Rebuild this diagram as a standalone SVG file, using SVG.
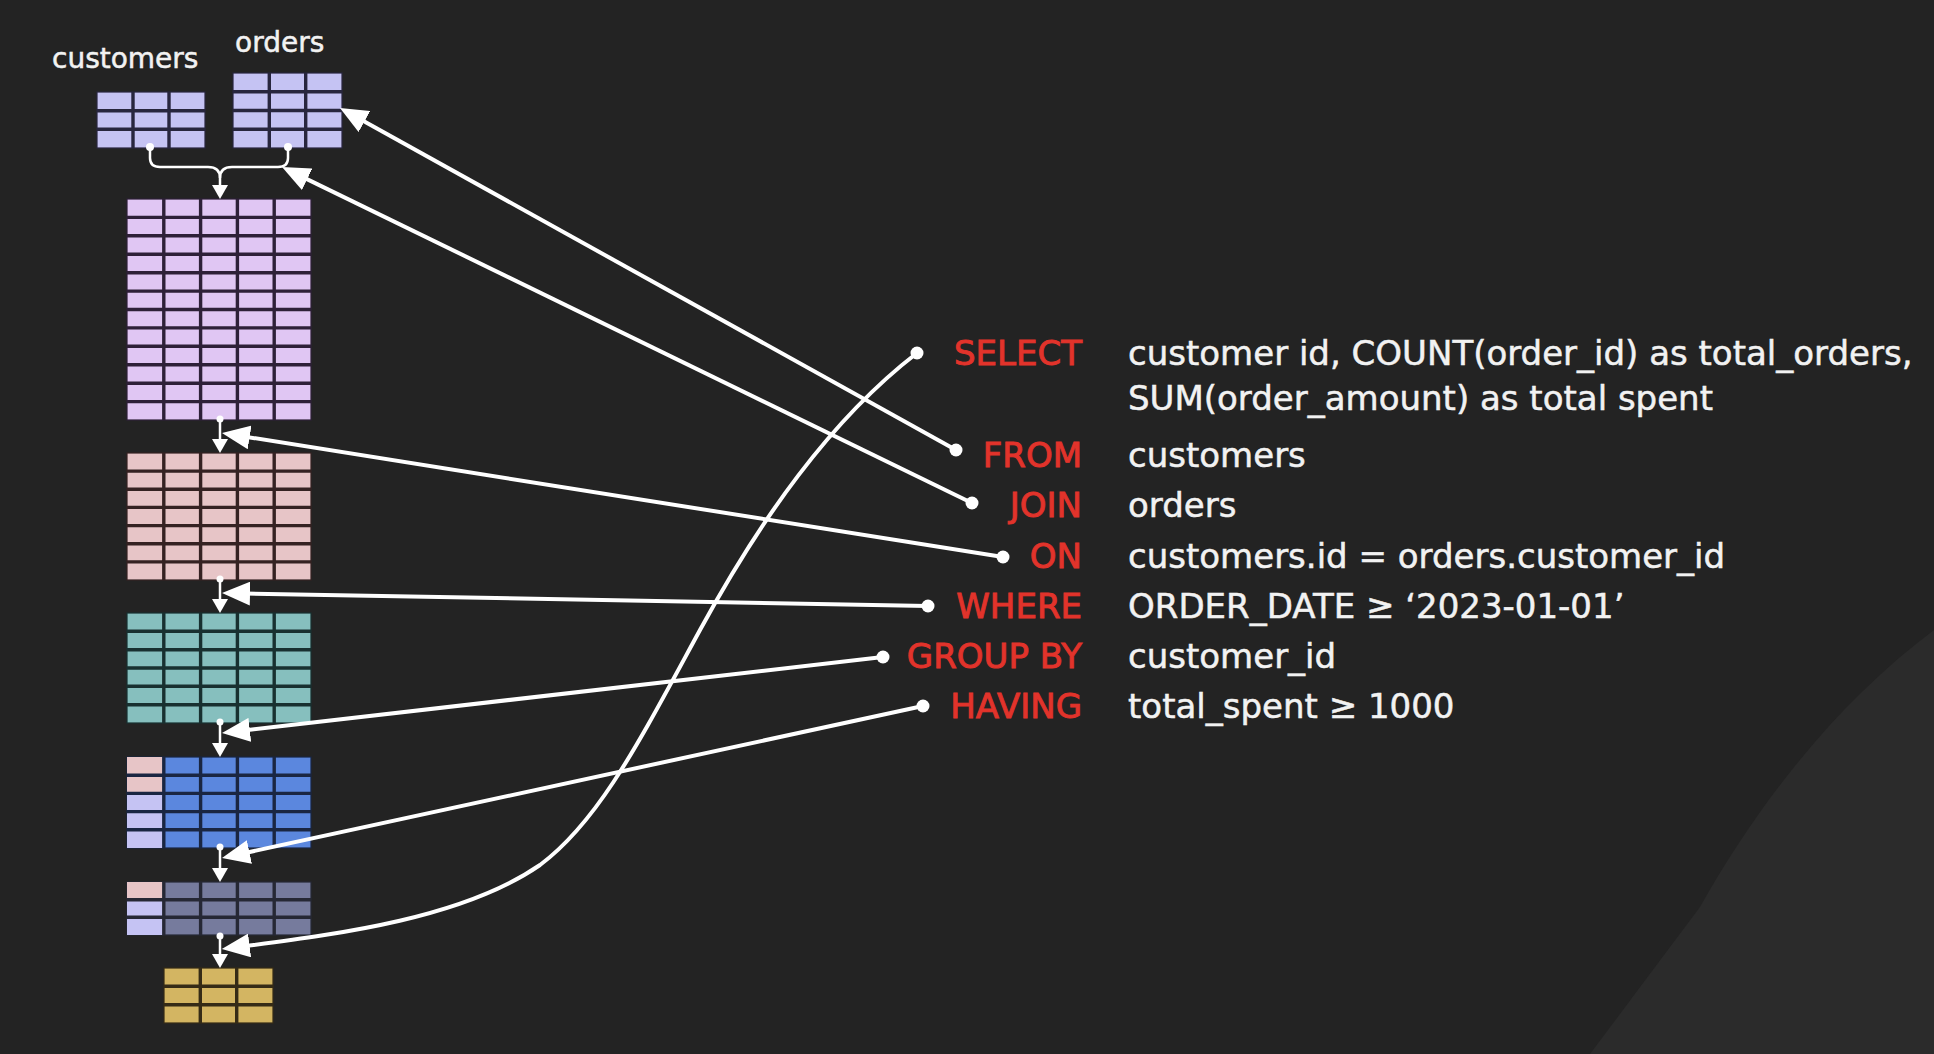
<svg xmlns="http://www.w3.org/2000/svg" width="1934" height="1054" viewBox="0 0 1934 1054">
<style>
.lbl{font-family:"DejaVu Sans","Liberation Sans",sans-serif;fill:#f2f2f2;stroke:#f2f2f2;stroke-width:0.5}
.kw{font-family:"DejaVu Sans","Liberation Sans",sans-serif;fill:#e2332b;stroke:#e2332b;stroke-width:0.9;font-size:34px;text-anchor:end}
.sql{font-family:"DejaVu Sans","Liberation Sans",sans-serif;fill:#f2f2f2;stroke:#f2f2f2;stroke-width:0.5;font-size:34px}
.grid{fill:none;stroke-width:3.4}
.edge{stroke-width:1.2}
.conn{fill:none;stroke:#ffffff;stroke-width:4}
.small{fill:none;stroke:#ffffff;stroke-width:2.5}
.dot{fill:#ffffff}
.lav{fill:#c5c3f3}
.pur{fill:#e0c6f3}
.pnk{fill:#e7c5c7}
.tea{fill:#86bfbe}
.blu{fill:#5b87de}
.gry{fill:#767b9d}
.gld{fill:#d3b562}
</style>
<defs>
<marker id="big" markerUnits="userSpaceOnUse" viewBox="0 0 28 24" refX="14" refY="12" markerWidth="28" markerHeight="24" orient="auto">
<path d="M0,0 L28,12 L0,24 Z" fill="#ffffff"/>
</marker>
<marker id="sm" markerUnits="userSpaceOnUse" viewBox="0 0 14 16" refX="7" refY="8" markerWidth="14" markerHeight="16" orient="auto">
<path d="M0,0 L14,8 L0,16 Z" fill="#ffffff"/>
</marker>
</defs>
<rect x="0" y="0" width="1934" height="1054" fill="#232323"/>
<path d="M1934,630 C1840,700 1760,800 1700,907 L1590,1054 L1934,1054 Z" fill="#2b2b2b"/>

<g id="label-customers"><text class="lbl" x="52" y="68" font-size="28">customers</text></g>
<g id="label-orders"><text class="lbl" x="235" y="52" font-size="28">orders</text></g>

<g id="table-customers">
<rect class="lav edge" x="97" y="92" width="108" height="56" stroke="#28263e"/>
<path class="grid" stroke="#28263e" d="M133,92V148M169,92V148M97,110.7H205M97,129.3H205"/>
</g>
<g id="table-orders">
<rect class="lav edge" x="233" y="73" width="109" height="75" stroke="#28263e"/>
<path class="grid" stroke="#28263e" d="M269.3,73V148M305.7,73V148M233,91.75H342M233,110.5H342M233,129.25H342"/>
</g>
<g id="table-joined">
<rect class="pur edge" x="127" y="199" width="184" height="221" stroke="#2e2038"/>
<path class="grid" stroke="#2e2038" d="M163.8,199V420M200.6,199V420M237.4,199V420M274.2,199V420M127,217.4H311M127,235.8H311M127,254.3H311M127,272.7H311M127,291.1H311M127,309.5H311M127,327.9H311M127,346.3H311M127,364.8H311M127,383.2H311M127,401.6H311"/>
</g>
<g id="table-on">
<rect class="pnk edge" x="127" y="453" width="184" height="127" stroke="#352222"/>
<path class="grid" stroke="#352222" d="M163.8,453V580M200.6,453V580M237.4,453V580M274.2,453V580M127,471.1H311M127,489.3H311M127,507.4H311M127,525.6H311M127,543.7H311M127,561.9H311"/>
</g>
<g id="table-where">
<rect class="tea edge" x="127" y="613" width="184" height="110" stroke="#183030"/>
<path class="grid" stroke="#183030" d="M163.8,613V723M200.6,613V723M237.4,613V723M274.2,613V723M127,631.3H311M127,649.7H311M127,668H311M127,686.3H311M127,704.7H311"/>
</g>
<g id="table-groupby">
<rect class="blu edge" x="127" y="757" width="184" height="91" stroke="#1a2642"/>
<rect class="pnk" x="127" y="757" width="36.8" height="36.4"/>
<rect class="lav" x="127" y="793.4" width="36.8" height="54.6"/>
<path class="grid" stroke="#1a2642" d="M163.8,757V848M200.6,757V848M237.4,757V848M274.2,757V848M127,775.2H311M127,793.4H311M127,811.6H311M127,829.8H311"/>
</g>
<g id="table-having">
<rect class="gry edge" x="127" y="882" width="184" height="53" stroke="#262835"/>
<rect class="pnk" x="127" y="882" width="36.8" height="17.7"/>
<rect class="lav" x="127" y="899.7" width="36.8" height="35.3"/>
<path class="grid" stroke="#262835" d="M163.8,882V935M200.6,882V935M237.4,882V935M274.2,882V935M127,899.7H311M127,917.3H311"/>
</g>
<g id="table-select">
<rect class="gld edge" x="164" y="968" width="109" height="55" stroke="#352b16"/>
<path class="grid" stroke="#352b16" d="M200.3,968V1023M236.7,968V1023M164,986.3H273M164,1004.7H273"/>
</g>

<g id="clause-select"><text class="kw" x="1082" y="365">SELECT</text><text class="sql" x="1128" y="365">customer id, COUNT(order_id) as total_orders,</text><text class="sql" x="1128" y="410">SUM(order_amount) as total spent</text></g>
<g id="clause-from"><text class="kw" x="1082" y="467">FROM</text><text class="sql" x="1128" y="467">customers</text></g>
<g id="clause-join"><text class="kw" x="1082" y="517">JOIN</text><text class="sql" x="1128" y="517">orders</text></g>
<g id="clause-on"><text class="kw" x="1082" y="568">ON</text><text class="sql" x="1128" y="568">customers.id = orders.customer_id</text></g>
<g id="clause-where"><text class="kw" x="1082" y="618">WHERE</text><text class="sql" x="1128" y="618">ORDER_DATE ≥ ‘2023-01-01’</text></g>
<g id="clause-groupby"><text class="kw" x="1082" y="668">GROUP BY</text><text class="sql" x="1128" y="668">customer_id</text></g>
<g id="clause-having"><text class="kw" x="1082" y="718">HAVING</text><text class="sql" x="1128" y="718">total_spent ≥ 1000</text></g>

<g id="connectors">
<path class="small" d="M150,147 V158 Q150,167 160,167 H208 Q220,167 220,178 V192" marker-end="url(#sm)"/>
<path class="small" d="M288,147 V158 Q288,167 278,167 H232 Q220,167 220,178"/>
<circle class="dot" cx="150" cy="147" r="4"/>
<circle class="dot" cx="288" cy="147" r="4"/>
<path class="small" d="M220,419 V446" marker-end="url(#sm)"/>
<circle class="dot" cx="220" cy="419" r="3.5"/>
<path class="small" d="M220,579 V606" marker-end="url(#sm)"/>
<circle class="dot" cx="220" cy="579" r="3.5"/>
<path class="small" d="M220,722 V750" marker-end="url(#sm)"/>
<circle class="dot" cx="220" cy="722" r="3.5"/>
<path class="small" d="M220,847 V875" marker-end="url(#sm)"/>
<circle class="dot" cx="220" cy="847" r="3.5"/>
<path class="small" d="M220,936 V961" marker-end="url(#sm)"/>
<circle class="dot" cx="220" cy="936" r="3.5"/>

<path class="conn" d="M956,450 L352.2,114.8" marker-end="url(#big)"/>
<path class="conn" d="M972,503 L294.6,173.1" marker-end="url(#big)"/>
<path class="conn" d="M1003,557 L235.8,435.2" marker-end="url(#big)"/>
<path class="conn" d="M928,606 L236,593.3" marker-end="url(#big)"/>
<path class="conn" d="M883,657 L235.9,731.4" marker-end="url(#big)"/>
<path class="conn" d="M923,706 L235.7,855" marker-end="url(#big)"/>
<path class="conn" d="M917,353 C830,420 760,520 700,630 C640,740 600,820 540,865 C460,920 330,935 235.7,947.3" marker-end="url(#big)"/>
<circle class="dot" cx="917" cy="353" r="6.5"/>
<circle class="dot" cx="956" cy="450" r="6.5"/>
<circle class="dot" cx="972" cy="503" r="6.5"/>
<circle class="dot" cx="1003" cy="557" r="6.5"/>
<circle class="dot" cx="928" cy="606" r="6.5"/>
<circle class="dot" cx="883" cy="657" r="6.5"/>
<circle class="dot" cx="923" cy="706" r="6.5"/>
</g>
</svg>
